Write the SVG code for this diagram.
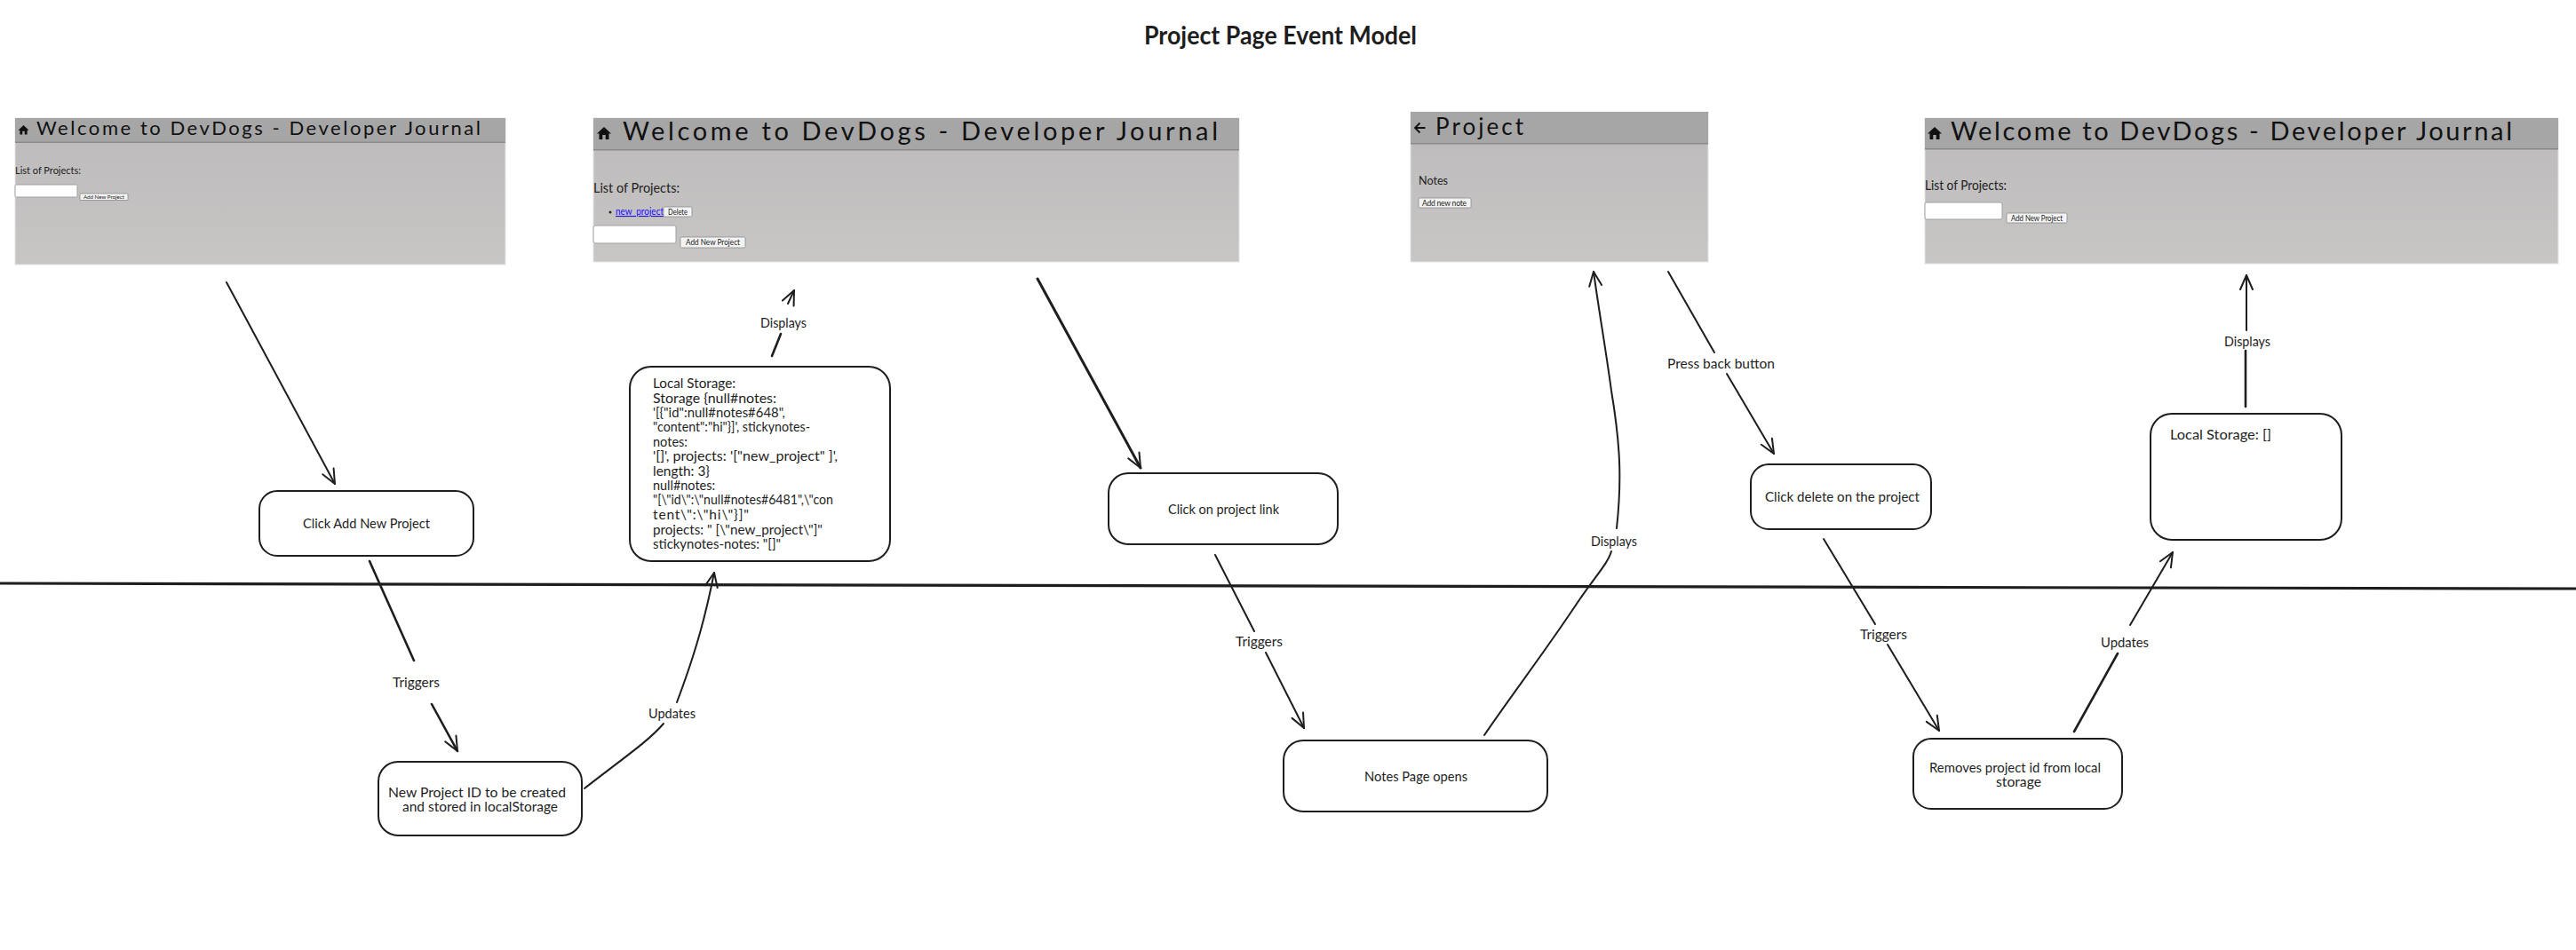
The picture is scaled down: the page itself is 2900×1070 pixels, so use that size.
<svg xmlns="http://www.w3.org/2000/svg" xmlns:xlink="http://www.w3.org/1999/xlink" width="2900" height="1070" viewBox="0 0 2900 1070">
<style>
text{font-family:"Lato","Noto Sans",sans-serif;fill:#1e1e1e}
.n{fill:#fff;stroke:#1e1e1e;stroke-width:2}
.c{fill:none;stroke:#1e1e1e;stroke-width:2;stroke-linecap:round}
.h{fill:none;stroke:#1e1e1e;stroke-width:3.2;stroke-linecap:round}
.l,.t,.m{transform:translateY(2px)}
.l{font-size:15px}
.t{font-size:15px}
.m{font-size:15.5px}
.shead{fill:#a6a6a6}
.sline{fill:#8a8a8a}
.sborder{fill:url(#sbody);stroke:#e4e4e4;stroke-width:1}
.sh{fill:#111;font-weight:400}
.btn{fill:#f3f3f3;stroke:#8a8a8a;stroke-width:.8}
.ta{fill:#fff;stroke:#a0a0a0;stroke-width:1}
.bt{fill:#222}
</style>
<defs>
<linearGradient id="sbody" x1="0" y1="0" x2="0" y2="1"><stop offset="0" stop-color="#bcbaba"/><stop offset="1" stop-color="#c7c6c5"/></linearGradient>
<marker id="arr" viewBox="0 0 20 20" refX="18" refY="10" markerWidth="20" markerHeight="20" markerUnits="userSpaceOnUse" orient="auto">
<path d="M2 3 L18 10 L2 17" fill="none" stroke="#1e1e1e" stroke-width="2" stroke-linecap="round" stroke-linejoin="round"/>
</marker>
<path id="home" d="M8 0 L16 7.5 L13.5 7.5 L13.5 14 L9.7 14 L9.7 9 L6.3 9 L6.3 14 L2.5 14 L2.5 7.5 L0 7.5 Z" fill="#111"/>
</defs>

<text id="title" x="1288" y="50" font-size="28" font-weight="700" textLength="307" lengthAdjust="spacingAndGlyphs">Project Page Event Model</text>

<g id="screen-1">
<rect class="sborder" x="17" y="133" width="552" height="165"/>
<rect class="shead" x="17" y="133" width="552" height="27"/><rect class="sline" x="17" y="159.500" width="552" height="1.500"/>
<use xlink:href="#home" href="#home" transform="translate(20.500,141) scale(.75)"/>
<text class="sh" x="41" y="152" font-size="22" textLength="500" lengthAdjust="spacing">Welcome to DevDogs - Developer Journal</text>
<text class="bt" x="17" y="196" font-size="12" textLength="74" lengthAdjust="spacingAndGlyphs">List of Projects:</text>
<rect class="ta" x="17" y="208" width="70" height="14" rx="1.500"/>
<rect class="btn" x="90" y="218" width="54" height="7.500" rx="1"/>
<text class="bt" x="94" y="224" font-size="6.500" textLength="46" lengthAdjust="spacingAndGlyphs">Add New Project</text>
</g>

<g id="screen-2">
<rect class="sborder" x="668" y="133" width="727" height="162"/>
<rect class="shead" x="668" y="133" width="727" height="36"/><rect class="sline" x="668" y="168" width="727" height="1.500"/>
<use xlink:href="#home" href="#home" transform="translate(672,143)"/>
<text class="sh" x="701" y="158" font-size="29" textLength="670" lengthAdjust="spacing">Welcome to DevDogs - Developer Journal</text>
<text class="bt" x="668" y="217" font-size="15" textLength="97" lengthAdjust="spacingAndGlyphs">List of Projects:</text>
<circle cx="687" cy="239" r="1.500" fill="#222"/>
<text x="693" y="242" font-size="11" textLength="54" lengthAdjust="spacingAndGlyphs" style="fill:#1a0dff" text-decoration="underline">new_project</text>
<rect class="btn" x="747" y="233" width="32" height="11" rx="1.500"/>
<text class="bt" x="752" y="242" font-size="9" textLength="22" lengthAdjust="spacingAndGlyphs">Delete</text>
<rect class="ta" x="668" y="254" width="93" height="20" rx="2"/>
<rect class="btn" x="766" y="267" width="73" height="12" rx="1.500"/>
<text class="bt" x="772" y="276" font-size="9" textLength="61" lengthAdjust="spacingAndGlyphs">Add New Project</text>
</g>

<g id="screen-3">
<rect class="sborder" x="1588" y="126" width="335" height="169"/>
<rect class="shead" x="1588" y="126" width="335" height="36"/><rect class="sline" x="1588" y="161" width="335" height="1.500"/>
<path d="M1604.500 144 H1593 M1598.500 138.500 L1593 144 L1598.500 149.500" fill="none" stroke="#111" stroke-width="1.800"/>
<text class="sh" x="1616" y="152" font-size="26" textLength="99" lengthAdjust="spacing">Project</text>
<text class="bt" x="1597" y="208" font-size="14" textLength="33" lengthAdjust="spacingAndGlyphs">Notes</text>
<rect class="btn" x="1597" y="223" width="59" height="11" rx="1.500"/>
<text class="bt" x="1601" y="232" font-size="8.500" textLength="50" lengthAdjust="spacing">Add new note</text>
</g>

<g id="screen-4">
<rect class="sborder" x="2167" y="133" width="713" height="164"/>
<rect class="shead" x="2167" y="133" width="713" height="35"/><rect class="sline" x="2167" y="167" width="713" height="1.500"/>
<use xlink:href="#home" href="#home" transform="translate(2170,143)"/>
<text class="sh" x="2196" y="158" font-size="29" textLength="632" lengthAdjust="spacing">Welcome to DevDogs - Developer Journal</text>
<text class="bt" x="2167" y="214" font-size="15" textLength="92" lengthAdjust="spacingAndGlyphs">List of Projects:</text>
<rect class="ta" x="2167" y="228" width="87" height="19" rx="2"/>
<rect class="btn" x="2259" y="240" width="68" height="11" rx="1.500"/>
<text class="bt" x="2264" y="249" font-size="8.500" textLength="58" lengthAdjust="spacingAndGlyphs">Add New Project</text>
</g>

<g id="connectors">
<path class="h" d="M0 657 L2900 663"/>
<path class="c" marker-end="url(#arr)" d="M255 318 L377 545"/>
<path class="c" style="stroke-width:2.600" d="M416 632 L466 744"/>
<path class="c" style="stroke-width:2.600" marker-end="url(#arr)" d="M486 793 L515 846"/>
<path class="c" d="M658 888 C700 855 730 835 747 815"/>
<path class="c" marker-end="url(#arr)" d="M762 791 C785 730 795 690 804 645"/>
<path class="c" style="stroke-width:2.600" d="M869 401 L879 376"/>
<path class="c" marker-end="url(#arr)" d="M887 342 L894 327"/>
<path class="c" style="stroke-width:3" marker-end="url(#arr)" d="M1168 314 L1284 527"/>
<path class="c" d="M1368 625 L1412 711"/>
<path class="c" marker-end="url(#arr)" d="M1425 735 L1468 820"/>
<path class="c" d="M1671 828 C1700 785 1735 740 1775 680 C1795 650 1810 635 1814 621"/>
<path class="c" marker-end="url(#arr)" d="M1820 595 C1826 540 1824 500 1814 440 C1808 395 1800 350 1794 306"/>
<path class="c" d="M1878 306 L1930 397"/>
<path class="c" marker-end="url(#arr)" d="M1944 421 L1997 511"/>
<path class="c" d="M2053 607 L2111 703"/>
<path class="c" marker-end="url(#arr)" d="M2125 726 L2183 823"/>
<path class="c" style="stroke-width:2.600" d="M2335 824 L2384 736"/>
<path class="c" marker-end="url(#arr)" d="M2398 704 L2446 622"/>
<path class="c" style="stroke-width:2.600" d="M2528 458 L2528 395"/>
<path class="c" marker-end="url(#arr)" d="M2529 372 L2529 310"/>
<text class="l" x="442" y="772" textLength="53" lengthAdjust="spacingAndGlyphs">Triggers</text>
<text class="l" x="730" y="807" textLength="53" lengthAdjust="spacingAndGlyphs">Updates</text>
<text class="l" x="856" y="367" textLength="52" lengthAdjust="spacingAndGlyphs">Displays</text>
<text class="l" x="1391" y="726" textLength="53" lengthAdjust="spacingAndGlyphs">Triggers</text>
<text class="l" x="1791" y="613" textLength="52" lengthAdjust="spacingAndGlyphs">Displays</text>
<text class="l" x="1877" y="413" textLength="121" lengthAdjust="spacingAndGlyphs">Press back button</text>
<text class="l" x="2094" y="718" textLength="53" lengthAdjust="spacingAndGlyphs">Triggers</text>
<text class="l" x="2365" y="727" textLength="54" lengthAdjust="spacingAndGlyphs">Updates</text>
<text class="l" x="2504" y="388" textLength="52" lengthAdjust="spacingAndGlyphs">Displays</text>
</g>

<g id="click-add-new-project">
<rect class="n" x="292" y="553" width="241" height="73" rx="20"/>
<text class="t" x="341" y="593" textLength="143" lengthAdjust="spacingAndGlyphs">Click Add New Project</text>
</g>
<g id="new-project-id">
<rect class="n" x="426" y="858" width="229" height="83" rx="22"/>
<text class="t" x="437" y="896" textLength="200" lengthAdjust="spacingAndGlyphs">New Project ID to be created</text>
<text class="t" x="453" y="912" textLength="175" lengthAdjust="spacingAndGlyphs">and stored in localStorage</text>
</g>
<g id="local-storage-1">
<rect class="n" x="709" y="413" width="293" height="219" rx="24"/>
<text class="m" x="735" y="435" textLength="93" lengthAdjust="spacingAndGlyphs">Local Storage:</text>
<text class="m" x="735" y="451.500" textLength="139" lengthAdjust="spacingAndGlyphs">Storage {null#notes:</text>
<text class="m" x="735" y="468" textLength="149" lengthAdjust="spacingAndGlyphs">'[{"id":null#notes#648",</text>
<text class="m" x="735" y="484" textLength="177" lengthAdjust="spacingAndGlyphs">"content":"hi"}]', stickynotes-</text>
<text class="m" x="735" y="501" textLength="39" lengthAdjust="spacingAndGlyphs">notes:</text>
<text class="m" x="735" y="517" textLength="208" lengthAdjust="spacingAndGlyphs">'[]', projects: '["new_project" ]',</text>
<text class="m" x="735" y="533.500" textLength="64" lengthAdjust="spacingAndGlyphs">length: 3}</text>
<text class="m" x="735" y="549.500" textLength="70" lengthAdjust="spacingAndGlyphs">null#notes:</text>
<text class="m" x="735" y="566" textLength="203" lengthAdjust="spacingAndGlyphs">"[\"id\":\"null#notes#6481",\"con</text>
<text class="m" x="735" y="583" textLength="108" lengthAdjust="spacing">tent\":\"hi\"}]"</text>
<text class="m" x="735" y="599.500" textLength="191" lengthAdjust="spacingAndGlyphs">projects: " [\"new_project\"]"</text>
<text class="m" x="735" y="616" textLength="144" lengthAdjust="spacingAndGlyphs">stickynotes-notes: "[]"</text>
</g>
<g id="click-project-link">
<rect class="n" x="1248" y="533" width="258" height="80" rx="22"/>
<text class="t" x="1315" y="577" textLength="125" lengthAdjust="spacingAndGlyphs">Click on project link</text>
</g>
<g id="notes-page-opens">
<rect class="n" x="1445" y="834" width="297" height="80" rx="22"/>
<text class="t" x="1536" y="878" textLength="116" lengthAdjust="spacingAndGlyphs">Notes Page opens</text>
</g>
<g id="click-delete">
<rect class="n" x="1971" y="523" width="203" height="73" rx="20"/>
<text class="t" x="1987" y="563" textLength="174" lengthAdjust="spacingAndGlyphs">Click delete on the project</text>
</g>
<g id="removes-project-id">
<rect class="n" x="2154" y="832" width="235" height="79" rx="20"/>
<text class="t" x="2172" y="868" textLength="193" lengthAdjust="spacingAndGlyphs">Removes project id from local</text>
<text class="t" x="2247" y="884" textLength="51" lengthAdjust="spacingAndGlyphs">storage</text>
</g>
<g id="local-storage-2">
<rect class="n" x="2421" y="466" width="215" height="142" rx="24"/>
<text class="t" x="2443" y="493" textLength="114" lengthAdjust="spacingAndGlyphs">Local Storage: []</text>
</g>
</svg>
